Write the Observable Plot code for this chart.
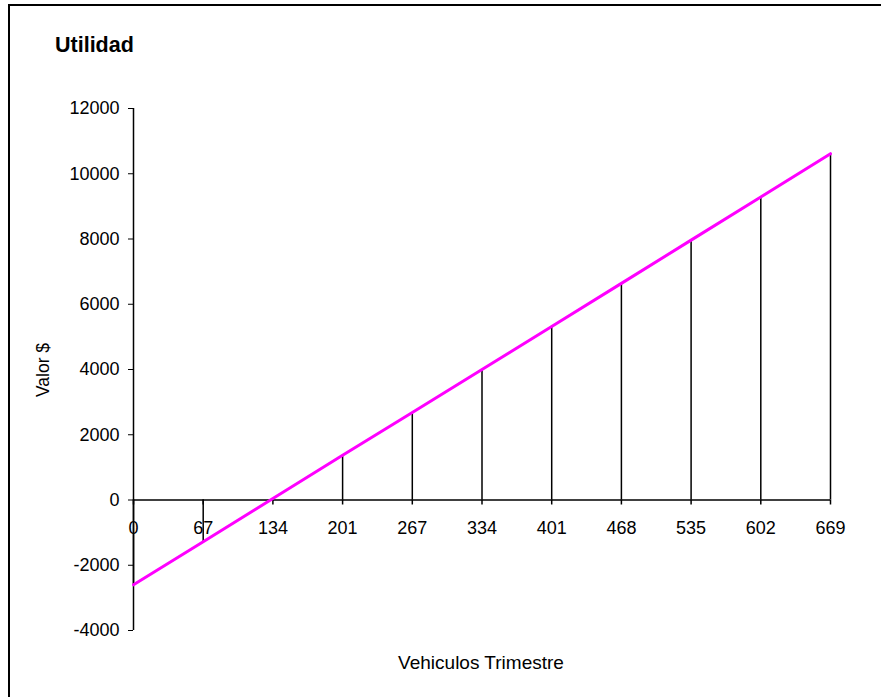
<!DOCTYPE html>
<html><head><meta charset="utf-8">
<script src="https://cdn.jsdelivr.net/npm/d3@7"></script>
<script src="https://cdn.jsdelivr.net/npm/@observablehq/plot@0.6"></script>
<style>
body{margin:0;background:#fff;overflow:hidden;}
#wrap{position:relative;width:881px;height:697px;overflow:hidden;font-family:"Liberation Sans",Arial,sans-serif;color:#000;}
#border{position:absolute;left:8px;top:4px;width:900px;height:720px;border-top:2px solid #000;border-left:2px solid #000;pointer-events:none;}
#title{position:absolute;left:55px;top:33px;font-size:21.5px;font-weight:bold;}
#ylab{position:absolute;left:43px;top:370px;font-size:17.5px;transform:translate(-50%,-50%) rotate(-90deg);white-space:nowrap;}
#xlab{position:absolute;left:481px;top:663px;font-size:19px;transform:translate(-50%,-50%);white-space:nowrap;}
#chart{position:absolute;left:0;top:0;}
</style></head>
<body>
<div id="wrap">
  <div id="chart"></div>
  <div id="border"></div>
  <div id="title">Utilidad</div>
  <div id="ylab">Valor $</div>
  <div id="xlab">Vehiculos Trimestre</div>
</div>
<script>
const units = ["0","67","134","201","267","334","401","468","535","602","669"];
const utilidad = [-2600, -1280, 45, 1370, 2680, 4000, 5320, 6640, 7965, 9290, 10615];
const yTicks = [-4000, -2000, 0, 2000, 4000, 6000, 8000, 10000, 12000];

const data = units.map((u, i) => ({u, v: utilidad[i]}));

const chart = Plot.plot({
  width: 881,
  height: 697,
  marginLeft: 133,
  marginRight: 51,
  marginTop: 108,
  marginBottom: 67,
  style: {fontFamily: "'Liberation Sans', Arial, sans-serif", fontSize: "18px", color: "#000", background: "transparent"},
  x: {type: "point", domain: units, padding: 0, round: false, axis: null},
  y: {domain: [-4000, 12000], axis: null},
  marks: [
    Plot.axisY({ticks: yTicks, tickSize: 5, tickPadding: 9, tickFormat: d => String(d), label: null, fontSize: 18}),
    Plot.ruleX([units[0]], {stroke: "#000", strokeWidth: 1.5}),
    Plot.ruleY([0], {stroke: "#000", strokeWidth: 1.5}),
    Plot.ruleX(data, {x: "u", y: "v", stroke: "#000", strokeWidth: 1.5}),
    Plot.ruleX(data, {x: "u", y1: () => 0, y2: () => 0, insetBottom: -5, stroke: "#000", strokeWidth: 1.5}),
    Plot.text(data, {x: "u", y: () => 0, text: "u", dy: 28, fontSize: 18, fill: "#000"}),
    Plot.line(data, {x: "u", y: "v", stroke: "#ff00ff", strokeWidth: 3})
  ]
});
document.getElementById("chart").appendChild(chart);
</script>
</body></html>
